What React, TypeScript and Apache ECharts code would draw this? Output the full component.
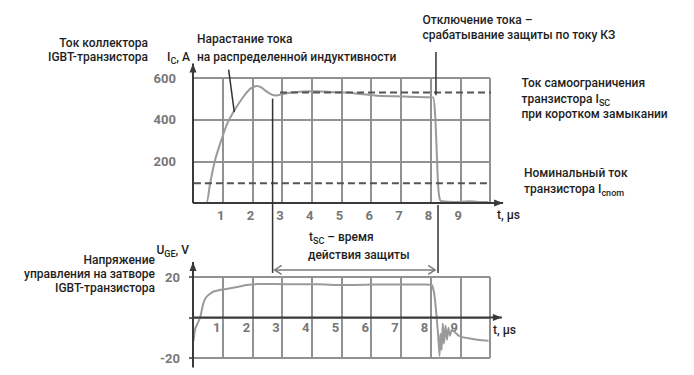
import React, { useEffect, useRef } from 'react';
import * as echarts from 'echarts';

// ---------- data ----------
const icTime = [0.2, 0.45, 0.57, 0.74, 0.97, 1.15, 1.36, 1.69, 1.9, 2.05, 2.15, 2.3, 2.45, 2.65, 2.8, 3.0, 3.3, 3.7, 4.2, 4.7, 5.2, 5.7, 6.2, 6.8, 7.3, 7.8, 8.08, 8.15, 8.2, 8.24, 8.28, 8.34, 8.6, 9.0, 9.3, 9.6, 9.95];
const icValues = [0, 0, 90, 205, 309, 380, 437, 509, 545, 558, 562, 555, 538, 520, 516, 522, 530, 535, 536, 532, 530, 522, 515, 512, 510, 508, 507, 430, 270, 120, 40, 10, 6, 5, 9, 5, 5];

const ugeTime = [0.02, 0.07, 0.15, 0.24, 0.35, 0.46, 0.68, 1.08, 1.53, 1.81, 2.2, 2.76, 3.5, 4.2, 5.0, 5.8, 6.5, 7.2, 7.8, 8.03, 8.12, 8.18, 8.25, 8.3, 8.33, 8.37, 8.41, 8.45, 8.5, 8.55, 8.6, 8.65, 8.72, 8.8, 8.95, 9.1, 9.3, 9.6, 9.95];
const ugeValues = [-11.5, -5.8, -3, 0, 7.1, 10.3, 12.7, 14, 15.2, 16, 16.5, 16.5, 16.4, 16.4, 16.0, 16.2, 16.3, 16.3, 16.3, 16.2, 12, 4, -8, -19, -8, -16, -3, -13, -4, -11, -5, -9, -6, -7, -9, -9.8, -10.3, -11, -11.5];

const iscLevel = 530;
const iscSpan = [2.93, 11.0];
const icnomLevel = 95;
const icnomSpan = [-0.34, 10.77];

const timeTickLabels = ['1', '2', '3', '4', '5', '6', '7', '8', '9'];
const icTickLabels = ['200', '400', '600'];
const ugeTickLabels = ['20', '-20'];

const tscStart = 2.68;
const tscEnd = 8.22;

// ---------- layout ----------
const FONT = 'Roboto, "Noto Sans", sans-serif';
const TXT = '#1e1e1e';
const GRIDC = '#929292';
const AXISC = '#3a3a3a';

export default function App() {
  const ref = useRef<HTMLDivElement>(null);

  useEffect(() => {
    if (!ref.current) return;
    const chart = echarts.init(ref.current, undefined, { renderer: 'svg' });

    const pairs = (ts: number[], vs: number[]) => ts.map((t, i) => [t, vs[i]]);

    const axisLabelStyle = {
      color: '#777',
      fontWeight: 'bold' as const,
      fontSize: 13,
      fontFamily: FONT,
    };

    const option: any = {
      animation: false,
      grid: [
        { left: 193, top: 78, width: 297, height: 125 },
        { left: 193, top: 277, width: 297, height: 81 },
      ],
      xAxis: [
        {
          gridIndex: 0, type: 'value', min: 0, max: 10, interval: 1,
          axisLine: { show: true, onZero: true, lineStyle: { opacity: 0 } },
          axisTick: { show: false },
          splitLine: { show: true, lineStyle: { color: GRIDC, width: 2 } },
          axisLabel: {
            ...axisLabelStyle, margin: 6, padding: [0, 4, 0, 0],
            formatter: (v: number) => (timeTickLabels.includes(String(v)) ? String(v) : ''),
          },
        },
        {
          gridIndex: 1, type: 'value', min: 0, max: 10, interval: 1,
          position: 'bottom', offset: -40.5,
          axisLine: { show: true, onZero: false, lineStyle: { opacity: 0 } },
          axisTick: { show: false },
          splitLine: { show: true, lineStyle: { color: GRIDC, width: 2 } },
          axisLabel: {
            ...axisLabelStyle, margin: 3, padding: [0, 12, 0, 0],
            formatter: (v: number) => (timeTickLabels.includes(String(v)) ? String(v) : ''),
          },
        },
      ],
      yAxis: [
        {
          gridIndex: 0, type: 'value', min: 0, max: 600, interval: 200,
          axisLine: { show: true, lineStyle: { opacity: 0 } },
          axisTick: { show: false },
          splitLine: { show: true, lineStyle: { color: GRIDC, width: 2 } },
          axisLabel: {
            ...axisLabelStyle, margin: 17,
            formatter: (v: number) => (icTickLabels.includes(String(v)) ? String(v) : ''),
          },
        },
        {
          gridIndex: 1, type: 'value', min: -20, max: 20, interval: 20,
          axisLine: { show: true, lineStyle: { opacity: 0 } },
          axisTick: { show: true, length: 4, lineStyle: { color: AXISC, width: 1.5 } },
          splitLine: { show: true, lineStyle: { color: GRIDC, width: 2 } },
          axisLabel: {
            ...axisLabelStyle, margin: 13,
            formatter: (v: number) => (ugeTickLabels.includes(String(v)) ? String(v) : ''),
          },
        },
      ],
      series: [
        {
          type: 'line', xAxisIndex: 0, yAxisIndex: 0, data: pairs(icTime, icValues),
          symbol: 'none', smooth: 0.2, lineStyle: { color: '#9a9a9a', width: 2 }, z: 3,
        },
        {
          type: 'line', xAxisIndex: 0, yAxisIndex: 0, clip: false,
          data: [[iscSpan[0], iscLevel], [iscSpan[1], iscLevel]],
          symbol: 'none', lineStyle: { color: '#555', width: 2, type: [7, 4] }, z: 4,
        },
        {
          type: 'line', xAxisIndex: 0, yAxisIndex: 0, clip: false,
          data: [[icnomSpan[0], icnomLevel], [icnomSpan[1], icnomLevel]],
          symbol: 'none', lineStyle: { color: '#555', width: 2, type: [7, 4] }, z: 4,
        },
        {
          type: 'line', xAxisIndex: 1, yAxisIndex: 1, data: pairs(ugeTime, ugeValues),
          symbol: 'none', smooth: 0.15, lineStyle: { color: '#9a9a9a', width: 2 }, z: 3,
        },
      ],
    };

    chart.setOption(option);

    const p = (g: number, t: number, v: number) =>
      chart.convertToPixel({ gridIndex: g } as any, [t, v]) as number[];

    const line = (a: number[], b: number[], stroke = AXISC, lineWidth = 2) => ({
      type: 'line', shape: { x1: a[0], y1: a[1], x2: b[0], y2: b[1] },
      style: { stroke, lineWidth }, z: 10,
    });
    const tri = (pts: number[][]) => ({
      type: 'polygon', shape: { points: pts }, style: { fill: AXISC }, z: 10,
    });
    const arrowUp = (tip: number[]) => tri([tip, [tip[0] - 3.5, tip[1] + 9], [tip[0] + 3.5, tip[1] + 9]]);
    const arrowRight = (tip: number[]) => tri([tip, [tip[0] - 9, tip[1] - 3.5], [tip[0] - 9, tip[1] + 3.5]]);

    const text = (x: number, y: number, t: string, align: string = 'left', rich?: any, extra: any = {}) => ({
      type: 'text', x, y, z: 20,
      style: {
        text: t, fill: TXT, fontSize: 12, fontWeight: 500, fontFamily: FONT,
        align, verticalAlign: 'middle', rich, ...extra,
      },
    });
    const subRich = {
      s: { fontSize: 9, fontWeight: 500, fontFamily: FONT, fill: TXT, padding: [7, 0, 0, 0] },
    };

    const t0 = p(0, 0, 0);
    const tXend = p(0, 10.44, 0);
    const tYend = p(0, 0, 670);
    const b0 = p(1, 0, 0);
    const bXend = p(1, 10.4, 0);
    const bYend = p(1, 0, 27.4);
    const bYbottom = p(1, 0, -24.7);

    const leftTop = p(0, tscStart, 501);
    const leftBot = p(1, tscStart, 22);
    const rightTopA = p(0, 8.18, 725);
    const rightTopB = p(0, 8.18, 517);
    const rightBotA = p(0, tscEnd + 0.03, -10);
    const rightBotB = p(1, tscEnd + 0.03, 22);
    const ptrA = p(0, 1.2, 640);
    const ptrB = p(0, 1.39, 436);

    const arrY = p(1, 0, 23.5)[1];
    const arrL = p(1, tscStart, 0)[0] + 2;
    const arrR = p(1, tscEnd, 0)[0] - 2;
    const ARC = '#7a7a7a';

    const graphic: any[] = [
      // axes
      line(t0, tXend), arrowRight(tXend), line(t0, tYend), arrowUp(tYend),
      line(b0, bXend), arrowRight(bXend), line(bYbottom, bYend), arrowUp(bYend),
      // markers
      line(leftTop, leftBot, '#333', 1.5),
      line(rightTopA, rightTopB, '#333', 1.5),
      line(rightBotA, rightBotB, '#333', 1.5),
      line(ptrA, ptrB, '#333', 1.5),
      // double arrow
      line([arrL, arrY], [arrR, arrY], ARC, 1.5),
      { type: 'polyline', shape: { points: [[arrL + 7, arrY - 4.5], [arrL, arrY], [arrL + 7, arrY + 4.5]] }, style: { stroke: ARC, lineWidth: 1.5, fill: 'none' }, z: 10 },
      { type: 'polyline', shape: { points: [[arrR - 7, arrY - 4.5], [arrR, arrY], [arrR - 7, arrY + 4.5]] }, style: { stroke: ARC, lineWidth: 1.5, fill: 'none' }, z: 10 },
      // texts
      text(148, 43, 'Ток коллектора', 'right'),
      text(148, 57, 'IGBT-транзистора', 'right'),
      text(167, 57, 'I{s|C}, A', 'left', subRich),
      text(197, 38.5, 'Нарастание тока'),
      text(197, 57, 'на распределенной индуктивности'),
      text(422.5, 20, 'Отключение тока –'),
      text(422.5, 35, 'срабатывание защиты по току КЗ'),
      text(521.5, 82.5, 'Ток самоограничения'),
      text(521.5, 99, 'транзистора I{s|SC}', 'left', subRich),
      text(521.5, 114, 'при коротком замыкании'),
      text(524, 172.5, 'Номинальный ток'),
      text(524, 189, 'транзистора I{s|cnom}', 'left', subRich),
      text(497, 215, 't, µs'),
      text(309, 237, 't{s|SC} – время', 'left', subRich),
      text(308, 255, 'действия защиты'),
      text(156.5, 250, 'U{s|GE}, V', 'left', subRich),
      text(155, 260, 'Напряжение', 'right'),
      text(155, 273.5, 'управления на затворе', 'right'),
      text(155, 287.5, 'IGBT-транзистора', 'right'),
      text(493, 330, 't, µs'),
    ];

    chart.setOption({ graphic });

    return () => chart.dispose();
  }, []);

  return (
    <div
      ref={ref}
      style={{ position: 'fixed', left: 0, top: 0, width: 694, height: 375, background: '#fff' }}
    />
  );
}
